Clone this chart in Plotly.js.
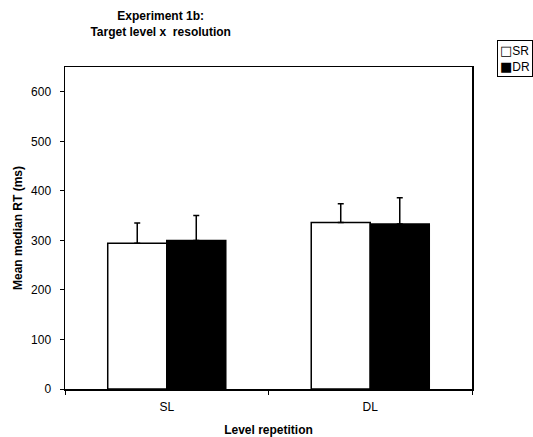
<!DOCTYPE html>
<html>
<head>
<meta charset="utf-8">
<script src="https://cdn.plot.ly/plotly-3.0.1.min.js"></script>
<style>html,body{margin:0;padding:0;background:#fff;}</style>
</head>
<body>
<div id="chart" style="width:533px;height:437px;"></div>
<script>
var categories = ["SL", "DL"];
var seriesNames = ["SR", "DR"];
var srValues = [294, 336];
var srErrors = [41, 38];
var drValues = [300, 333];
var drErrors = [50, 53];
var yTicks = [0, 100, 200, 300, 400, 500, 600];

var FONT = "Liberation Sans, Arial, sans-serif";

var traces = [
  {
    type: "bar", name: seriesNames[0], x: categories, y: srValues,
    marker: {color: "#ffffff", line: {color: "#000000", width: 1.5}},
    error_y: {type: "data", symmetric: false, array: srErrors, arrayminus: srErrors.map(function(){return 0;}),
              visible: true, color: "#000000", thickness: 1.5, width: 3}
  },
  {
    type: "bar", name: seriesNames[1], x: categories, y: drValues,
    marker: {color: "#000000", line: {color: "#000000", width: 1.5}},
    error_y: {type: "data", symmetric: false, array: drErrors, arrayminus: drErrors.map(function(){return 0;}),
              visible: true, color: "#000000", thickness: 1.5, width: 3}
  }
];

var layout = {
  width: 533, height: 437,
  paper_bgcolor: "#ffffff", plot_bgcolor: "#ffffff",
  margin: {l: 65, r: 61, t: 67, b: 48},
  font: {family: FONT, color: "#000000", size: 11},
  barmode: "group", bargap: 0.42, bargroupgap: 0,
  showlegend: false,
  title: {
    text: "<b>Experiment 1b:</b><br><b>Target level x  resolution</b>",
    font: {family: FONT, size: 12, color: "#000000"},
    x: 0.235, xref: "paper", xanchor: "center",
    y: 1 - 20 / 437, yanchor: "top"
  },
  xaxis: {
    type: "category",
    title: {text: "<b>Level repetition</b>", font: {family: FONT, size: 12}, standoff: 12},
    showline: true, linecolor: "#000000", linewidth: 1.5, mirror: true,
    ticks: "outside", tickson: "boundaries", ticklen: 4, tickcolor: "#000000",
    tickfont: {family: FONT, size: 12}, ticklabelstandoff: 6,
    showgrid: false, zeroline: false
  },
  yaxis: {
    title: {text: "<b>Mean median RT (ms)</b>", font: {family: FONT, size: 12}, standoff: 6},
    range: [0, 650], tickvals: yTicks, ticktext: yTicks.map(String),
    showline: true, linecolor: "#000000", linewidth: 1.5, mirror: true,
    ticks: "outside", ticklen: 4, tickcolor: "#000000",
    tickfont: {family: FONT, size: 12}, ticklabelstandoff: 6,
    showgrid: false, zeroline: false
  },
  annotations: [{
    xref: "paper", yref: "paper",
    x: (497 - 65) / 407, y: (389 - 40) / 322,
    xanchor: "left", yanchor: "top",
    text: "<span style='font-family:DejaVu Sans;font-size:13px'>\u25A1</span>" + seriesNames[0] +
          "<br><span style='font-family:DejaVu Sans;font-size:13px'>\u25A0</span>" + seriesNames[1],
    align: "left", showarrow: false,
    font: {family: FONT, size: 12, color: "#000000"},
    bordercolor: "#000000", borderwidth: 1, borderpad: 2, bgcolor: "#ffffff"
  }]
};

Plotly.newPlot("chart", traces, layout, {displayModeBar: false, staticPlot: true});
</script>
</body>
</html>
